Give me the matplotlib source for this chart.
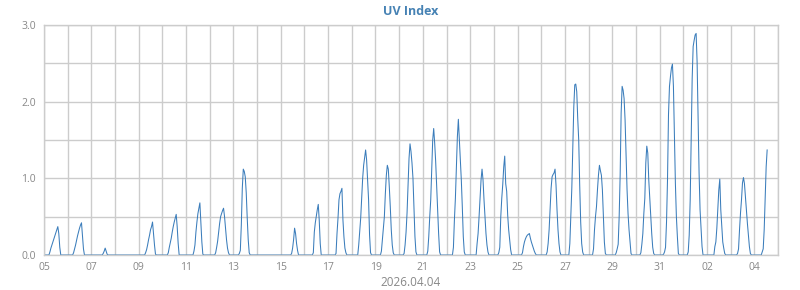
import numpy as np
import pandas as pd
import matplotlib
matplotlib.use("Agg")
import matplotlib.pyplot as plt
import matplotlib.dates as mdates
from matplotlib.ticker import MultipleLocator, FixedLocator

plt.rcParams['font.family'] = ['Open Sans', 'DejaVu Sans']

# hourly UV readings, one row per day starting 2026-03-05
first_day = "2026-03-05"
last_reading = "2026-04-04 13:00"
start_hour = [6, 6, 12, 0, 7, 6, 8, 6, 6, 0, 11, 9, 8, 7, 6, 5,
              5, 7, 7, 5, 5, 6, 5, 5, 4, 5, 4, 5, 8, 7, 8]
hourly = [
    [0.04, 0.09, 0.13, 0.17, 0.21, 0.25, 0.29, 0.33, 0.37, 0.28, 0.10],
    [0.03, 0.08, 0.13, 0.19, 0.25, 0.30, 0.35, 0.39, 0.42, 0.24, 0.08],
    [0.02, 0.05, 0.09, 0.05, 0.01],
    [],
    [0.03, 0.07, 0.13, 0.20, 0.26, 0.33, 0.37, 0.43, 0.28, 0.13, 0.01],
    [0.03, 0.10, 0.16, 0.22, 0.30, 0.37, 0.43, 0.48, 0.53, 0.37, 0.15],
    [0.05, 0.13, 0.30, 0.43, 0.54, 0.61, 0.68, 0.43, 0.17, 0.01],
    [0.03, 0.10, 0.18, 0.30, 0.41, 0.50, 0.54, 0.58, 0.61, 0.50, 0.35, 0.20, 0.09, 0.03],
    [0.02, 0.06, 0.39, 0.87, 1.12, 1.09, 1.02, 0.81, 0.48, 0.20, 0.03],
    [],
    [0.02, 0.09, 0.20, 0.35, 0.28, 0.15, 0.06],
    [0.03, 0.30, 0.42, 0.51, 0.59, 0.66, 0.45, 0.15],
    [0.02, 0.28, 0.48, 0.72, 0.80, 0.83, 0.87, 0.46, 0.24, 0.09, 0.03],
    [0.13, 0.30, 0.48, 0.74, 1.00, 1.17, 1.27, 1.37, 1.24, 0.98, 0.72, 0.26, 0.03],
    [0.05, 0.20, 0.35, 0.50, 0.80, 1.04, 1.17, 1.12, 0.89, 0.63, 0.33, 0.13, 0.03],
    [0.02, 0.13, 0.30, 0.55, 0.90, 1.26, 1.45, 1.35, 1.20, 1.00, 0.63, 0.24, 0.04],
    [0.05, 0.24, 0.50, 0.72, 1.09, 1.50, 1.65, 1.46, 1.22, 0.89, 0.59, 0.28, 0.04],
    [0.10, 0.46, 0.74, 1.13, 1.54, 1.77, 1.50, 1.26, 0.98, 0.63, 0.24, 0.04],
    [0.15, 0.28, 0.50, 0.75, 0.98, 1.12, 0.98, 0.72, 0.50, 0.28, 0.13, 0.04],
    [0.03, 0.10, 0.50, 0.74, 0.92, 1.15, 1.29, 0.93, 0.83, 0.52, 0.33, 0.20, 0.07],
    [0.03, 0.11, 0.17, 0.21, 0.24, 0.26, 0.27, 0.28, 0.22, 0.17, 0.13, 0.09, 0.05, 0.02],
    [0.04, 0.15, 0.33, 0.59, 0.87, 1.02, 1.05, 1.07, 1.12, 0.91, 0.59, 0.33, 0.15, 0.04],
    [0.15, 0.50, 0.87, 1.41, 1.93, 2.22, 2.23, 2.13, 1.78, 1.50, 0.91, 0.43, 0.15, 0.04],
    [0.08, 0.33, 0.50, 0.63, 0.85, 1.04, 1.17, 1.10, 1.04, 0.85, 0.50, 0.17, 0.02],
    [0.03, 0.08, 0.14, 0.50, 1.04, 1.85, 2.20, 2.15, 2.04, 1.76, 1.30, 0.85, 0.54, 0.33, 0.17, 0.02],
    [0.03, 0.14, 0.28, 0.54, 0.74, 1.20, 1.42, 1.33, 0.98, 0.74, 0.50, 0.28, 0.10, 0.02],
    [0.01, 0.04, 0.10, 0.43, 0.98, 1.83, 2.20, 2.33, 2.44, 2.49, 2.20, 1.56, 0.93, 0.50, 0.24, 0.02],
    [0.04, 0.26, 0.72, 1.50, 2.30, 2.72, 2.80, 2.87, 2.89, 2.52, 1.79, 1.07, 0.59, 0.35, 0.11],
    [0.11, 0.17, 0.35, 0.59, 0.85, 0.99, 0.59, 0.37, 0.17, 0.09, 0.02],
    [0.02, 0.08, 0.33, 0.55, 0.72, 0.94, 1.01, 0.93, 0.75, 0.57, 0.41, 0.26, 0.11, 0.02],
    [0.04, 0.08, 0.33, 0.72, 1.15, 1.37],
]

idx = pd.date_range(first_day, last_reading, freq="h")
uv = pd.Series(0.0, index=idx)
day0 = pd.Timestamp(first_day)
for d, (h0, vals) in enumerate(zip(start_hour, hourly)):
    for i, v in enumerate(vals):
        t = day0 + pd.Timedelta(days=d, hours=h0 + i)
        if t in uv.index:
            uv[t] = v

fig = plt.figure(figsize=(8, 2.9), dpi=100)
ax = fig.add_axes([44 / 800, 35 / 290, 734 / 800, 230 / 290])

ax.plot(uv.index, uv.values, color="#3b7dbb", lw=0.75, antialiased=True)

ax.set_xlim(pd.Timestamp("2026-03-05"), pd.Timestamp("2026-04-05"))
ax.set_ylim(0, 3.0)

tick_days = pd.date_range("2026-03-05", "2026-04-04", freq="2D")
ax.xaxis.set_major_locator(FixedLocator(mdates.date2num(tick_days)))
ax.xaxis.set_major_formatter(mdates.DateFormatter("%d"))
ax.xaxis.set_minor_locator(MultipleLocator(1))
ax.yaxis.set_major_locator(MultipleLocator(1.0))
ax.yaxis.set_minor_locator(MultipleLocator(0.5))
ax.yaxis.set_major_formatter(matplotlib.ticker.FormatStrFormatter("%.1f"))

ax.grid(True, which="both", color="#cccccc", lw=1.0)
ax.set_axisbelow(True)
for s in ax.spines.values():
    s.set_color("#cccccc")
    s.set_linewidth(1.0)
ax.tick_params(which="both", length=0, colors="#888888", labelsize=7.5)
ax.tick_params(axis="x", pad=5)
ax.tick_params(axis="y", pad=6)

ax.set_xlabel("2026.04.04", color="#888888", fontsize=8.5, labelpad=2)
ax.set_title("UV Index", color="#4682b4", fontsize=9, fontweight="bold", pad=7)

fig.savefig("out.png", dpi=100)
